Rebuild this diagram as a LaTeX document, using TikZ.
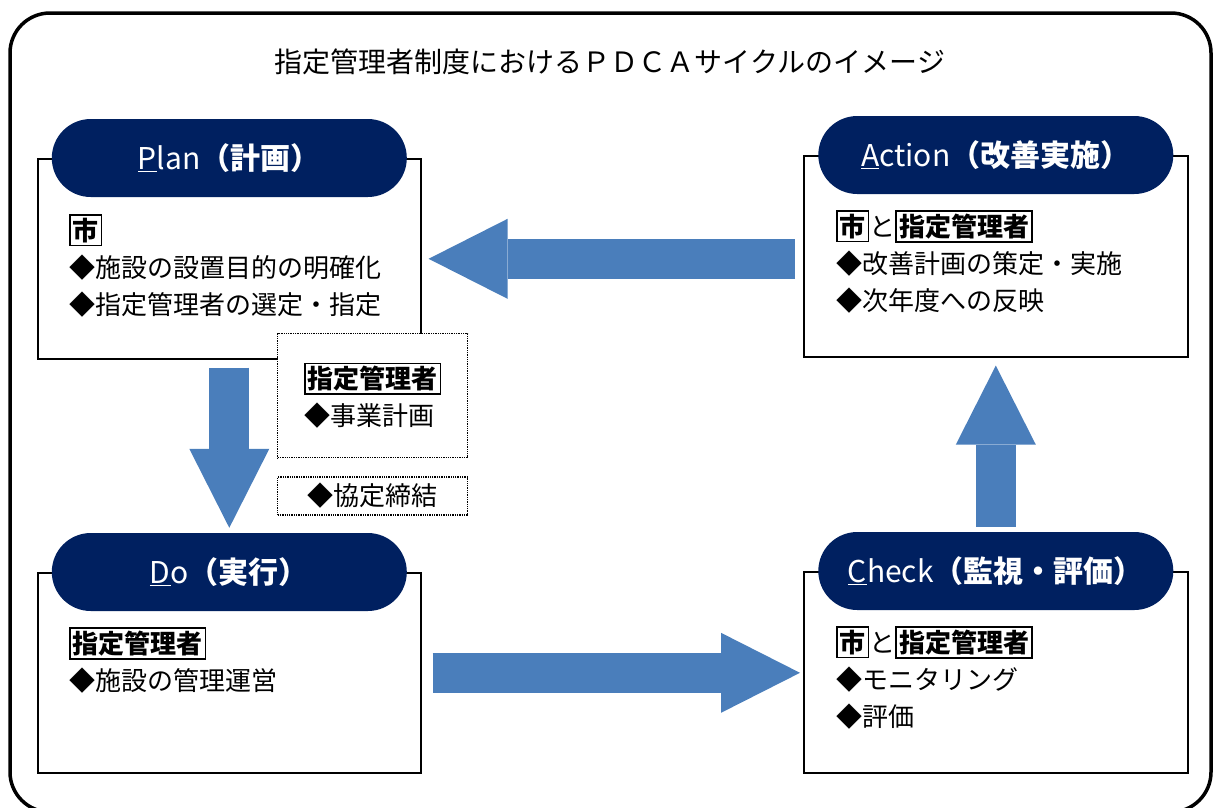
\documentclass[tikz,border=0pt]{standalone}
\usepackage{fontspec}
\setmainfont{Noto Sans CJK JP}
\usetikzlibrary{arrows.meta, positioning, calc}
\definecolor{pdcanavy}{RGB}{0,32,96}
\definecolor{pdcablue}{RGB}{74,126,187}
\newcommand{\tagbox}[1]{{\setlength{\fboxsep}{2pt}\setlength{\fboxrule}{1.6pt}\fbox{\bfseries #1}}}

\begin{document}
\begin{tikzpicture}[
    x=1pt, y=-1pt,
    every node/.style={inner sep=0pt},
    phasebox/.style={rectangle, draw=black, line width=1.6pt, fill=white,
        minimum width=383pt, minimum height=200pt, anchor=north west},
    pill/.style={rectangle, rounded corners=39pt, fill=pdcanavy, text=white,
        minimum width=355pt, minimum height=78pt,
        font=\fontsize{30}{32}\selectfont},
    bodytext/.style={anchor=north west, align=left,
        font=\fontsize{26}{37}\selectfont},
    notebox/.style={rectangle, draw=black, densely dotted, line width=1.3pt,
        fill=white, minimum width=190pt, align=left,
        font=\fontsize{26}{37}\selectfont},
    bigarrow/.style={line width=40pt, pdcablue,
        -{Triangle[length=79pt, width=80pt, line width=0pt]}},
]
\useasboundingbox (0,0) rectangle (1214,807);
\clip (0,0) rectangle (1214,807);

% === FRAME AND TITLE ===
\draw[line width=3.5pt, rounded corners=40pt] (10,13) rectangle (1211,812);
\node[font=\fontsize{28}{30}\selectfont] (title) at (610,62)
    {指定管理者制度におけるＰＤＣＡサイクルのイメージ};

% === PLAN ===
\node[phasebox] (planbox) at (37,158) {};
\node[pill] (planpill) at (planbox.north) {\underline{P}lan{\bfseries（計画）}};
\node[bodytext] (plantext) at ([xshift=32pt, yshift=-56pt]planbox.north west)
    {\tagbox{市}\\◆施設の設置目的の明確化\\◆指定管理者の選定・指定};

% Notes beside the Plan box
\node[notebox, anchor=north west, minimum height=124pt] (plannote) at (277,333)
    {\tagbox{指定管理者}\\◆事業計画};
\node[notebox, minimum height=38pt, below=18pt of plannote] (agreement)
    {◆協定締結};

% === ACTION ===
\node[phasebox, minimum width=384pt, minimum height=201pt] (actbox) at (803,155) {};
\node[pill] (actpill) at (actbox.north) {\underline{A}ction{\bfseries（改善実施）}};
\node[bodytext] (acttext) at ([xshift=33pt, yshift=-55pt]actbox.north west)
    {\tagbox{市}と\tagbox{指定管理者}\\◆改善計画の策定・実施\\◆次年度への反映};

% === DO ===
\node[phasebox] (dobox) at (37,572) {};
\node[pill] (dopill) at (dobox.north) {\underline{D}o{\bfseries（実行）}};
\node[bodytext] (dotext) at ([xshift=32pt, yshift=-55pt]dobox.north west)
    {\tagbox{指定管理者}\\◆施設の管理運営};

% === CHECK ===
\node[phasebox, minimum width=384pt, minimum height=201pt] (chkbox) at (803,571) {};
\node[pill] (chkpill) at (chkbox.north) {\underline{C}heck{\bfseries（監視・評価）}};
\node[bodytext] (chktext) at ([xshift=33pt, yshift=-55pt]chkbox.north west)
    {\tagbox{市}と\tagbox{指定管理者}\\◆モニタリング\\◆評価};

% === ARROWS ===
\draw[bigarrow] ($(actbox.west |- planbox.east)+(-8,0)$) -- ($(planbox.east)+(7,0)$);
\draw[bigarrow] ($(planbox.south)+(0,8)$) -- ($(dopill.north)+(0,-5)$);
\draw[bigarrow] ($(dobox.east)+(11,0)$) -- ($(chkbox.west |- dobox.east)+(-3,0)$);
\draw[bigarrow] ($(chkpill.north)+(0,-5)$) -- ($(actbox.south)+(0,8)$);

\end{tikzpicture}
\end{document}
